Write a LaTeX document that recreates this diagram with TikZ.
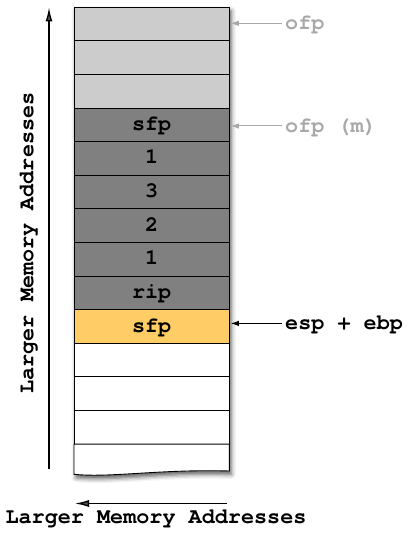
\documentclass[tikz,border=0pt]{standalone}
\usepackage{fontspec}
\setmonofont{texgyrecursor}[Extension=.otf, UprightFont=*-regular,
  BoldFont=*-bold]
\usetikzlibrary{arrows.meta,shadows.blur}

\definecolor{upperframe}{HTML}{CCCCCC}
\definecolor{callframe}{HTML}{808080}
\definecolor{current}{HTML}{FFCC66}
\definecolor{faded}{HTML}{A8A8A8}

\begin{document}
\begin{tikzpicture}[x=1bp,y=-1bp,
  every node/.style={font=\fontsize{21.8bp}{26bp}\selectfont\ttfamily\bfseries},
  cell/.style={draw=black, line width=0.9bp, minimum width=155.3bp,
    minimum height=33.6bp, inner sep=0pt, outer sep=0pt, anchor=north west,
    text height=15bp, text depth=4bp},
  ptr/.style={line width=1bp, -{Latex[length=8bp,width=5.5bp]}},
  bigarrow/.style={line width=1.3bp, -{Latex[length=14bp,width=7bp]}},
  tag/.style={anchor=base west, inner sep=0pt},
]
\useasboundingbox (0,0) rectangle (411,535);

% soft shadow under the whole stack
\fill[white, blur shadow={shadow xshift=2bp, shadow yshift=-3.5bp,
    shadow blur radius=4.5bp, shadow opacity=65}]
  (74,7.3) -- (229.3,7.3) -- (229.3,471)
  .. controls (160,469) and (110,478) .. (74,474.3) -- cycle;

% stack cells, top to bottom
\foreach \i/\c/\t in {0/upperframe/, 1/upperframe/, 2/upperframe/,
    3/callframe/sfp, 4/callframe/1, 5/callframe/3, 6/callframe/2,
    7/callframe/1, 8/callframe/rip, 9/current/sfp,
    10/white/, 11/white/, 12/white/}
  \node[cell, fill=\c] (r\i) at (74,7.3+33.6*\i) {\t};

% torn-off bottom cell
\draw[fill=white, line width=0.9bp] (r12.south west) -- (r12.south east)
  -- (229.3,471) .. controls (160,469) and (110,478) .. (74,474.3) -- cycle;

% pointer labels on the right
\coordinate (ofpA) at (282,23.3);
\coordinate (ofpmA) at (282,126);
\coordinate (espA) at (282,323.4);
\node[tag, text=faded] (ofp) at (285,29.4) {ofp};
\node[tag, text=faded] (ofpm) at (285,132.1) {ofp (m)};
\node[tag] (esp) at (285,329.5) {esp + ebp};
\draw[ptr, faded] (ofpA) -- ([xshift=1.5bp]ofpA -| r0.east);
\draw[ptr, faded] (ofpmA) -- ([xshift=1.5bp]ofpmA -| r3.east);
\draw[ptr, black] (espA) -- ([xshift=1.5bp]espA -| r9.east);

% address direction arrows
\coordinate (vbot) at (49,469);
\coordinate (vtop) at (49,7.5);
\draw[bigarrow] (vbot) -- (vtop);
\node[rotate=90, anchor=base, inner sep=0pt] (vlab) at (33.3,243)
  {Larger Memory Addresses};

\coordinate (hstart) at (227,503.5);
\coordinate (hend) at (75,503.5);
\draw[bigarrow] (hstart) -- (hend);
\node[anchor=base, inner sep=0pt] (hlab) at (156,523)
  {Larger Memory Addresses};
\end{tikzpicture}
\end{document}
